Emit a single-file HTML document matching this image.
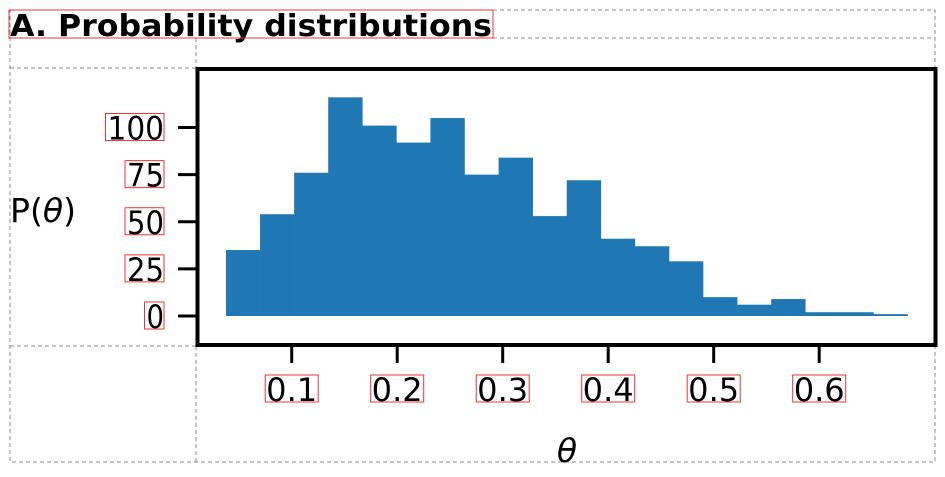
<!DOCTYPE html>
<html><head><meta charset="utf-8"><style>
body{margin:0;background:#fff}
svg text{font-family:"DejaVu Sans","Liberation Sans",sans-serif;fill:#000}
</style></head><body>
<svg width="945" height="472" viewBox="0 0 945 472" xmlns="http://www.w3.org/2000/svg">
<g fill="none" stroke="#888" stroke-dasharray="4,3" stroke-width="1">
<rect x="10" y="10" width="925" height="452"/>
<line x1="10" y1="38" x2="935" y2="38"/>
<line x1="10" y1="68" x2="196" y2="68"/>
<line x1="10" y1="346" x2="196" y2="346"/>
<line x1="196" y1="38" x2="196" y2="462"/>
</g>
<text x="10" y="36" font-size="30" font-weight="bold" textLength="482" lengthAdjust="spacingAndGlyphs">A. Probability distributions</text>
<rect x="9" y="10" width="484" height="28" fill="none" stroke="#e33" stroke-width="1"/>
<g id="bars"></g>
<g id="axes"></g>
<rect x="197.5" y="69" width="738" height="276" fill="none" stroke="#000" stroke-width="4"/>
<text x="10" y="222" font-size="33" textLength="66" lengthAdjust="spacingAndGlyphs">P(<tspan font-style="italic">θ</tspan>)</text>
<text x="567" y="462" font-size="33" font-style="italic" text-anchor="middle">θ</text>
</svg>
<script>
const counts=[35,54,76,116,101,92,105,75,84,53,72,41,37,29,10,6,9,2,2,1];
const binStart=0.0377;
const binWidth=0.0323;
const xTicks=[0.1,0.2,0.3,0.4,0.5,0.6];
const xTickLabels=["0.1","0.2","0.3","0.4","0.5","0.6"];
const yTicks=[0,25,50,75,100];
const yTickLabels=["0","25","50","75","100"];
const X=v=>186.2+v*1055;
const Y=v=>316-v*1.885;
const NS="http://www.w3.org/2000/svg";
const bars=document.getElementById('bars'),axes=document.getElementById('axes');
counts.forEach((c,i)=>{const r=document.createElementNS(NS,'rect');
const x0=X(binStart+i*binWidth),x1=X(binStart+(i+1)*binWidth);
r.setAttribute('x',x0);r.setAttribute('width',x1-x0+0.3);r.setAttribute('y',Y(c));r.setAttribute('height',Y(0)-Y(c));r.setAttribute('fill','#1f77b4');


bars.appendChild(r);});
function add(tag,attrs,parent,txt){const e=document.createElementNS(NS,tag);for(const k in attrs)e.setAttribute(k,attrs[k]);if(txt!==undefined)e.textContent=txt;parent.appendChild(e);return e;}
xTicks.forEach((t,i)=>{const x=X(t);
const l=add('line',{x1:x,x2:x,y1:345,y2:363,stroke:'#000','stroke-width':3},axes);


const w=xTickLabels[i].length*17;
const tx=add('text',{x:x,y:401,'font-size':32,'text-anchor':'middle',textLength:w,lengthAdjust:'spacingAndGlyphs'},axes,xTickLabels[i]);


add('rect',{x:x-w/2-1,y:375,width:w+2,height:27,fill:'none',stroke:'#e33','stroke-width':1},axes);
});
yTicks.forEach((t,i)=>{const y=Y(t);
const l=add('line',{x1:178,x2:196,y1:y,y2:y,stroke:'#000','stroke-width':3},axes);


const w=yTickLabels[i].length*19.5;
const tx=add('text',{x:164,y:y+12,'font-size':32,'text-anchor':'end',textLength:w-2,lengthAdjust:'spacingAndGlyphs'},axes,yTickLabels[i]);


add('rect',{x:164-w,y:y-14,width:w,height:27,fill:'none',stroke:'#e33','stroke-width':1},axes);
});
</script>
</body></html>
